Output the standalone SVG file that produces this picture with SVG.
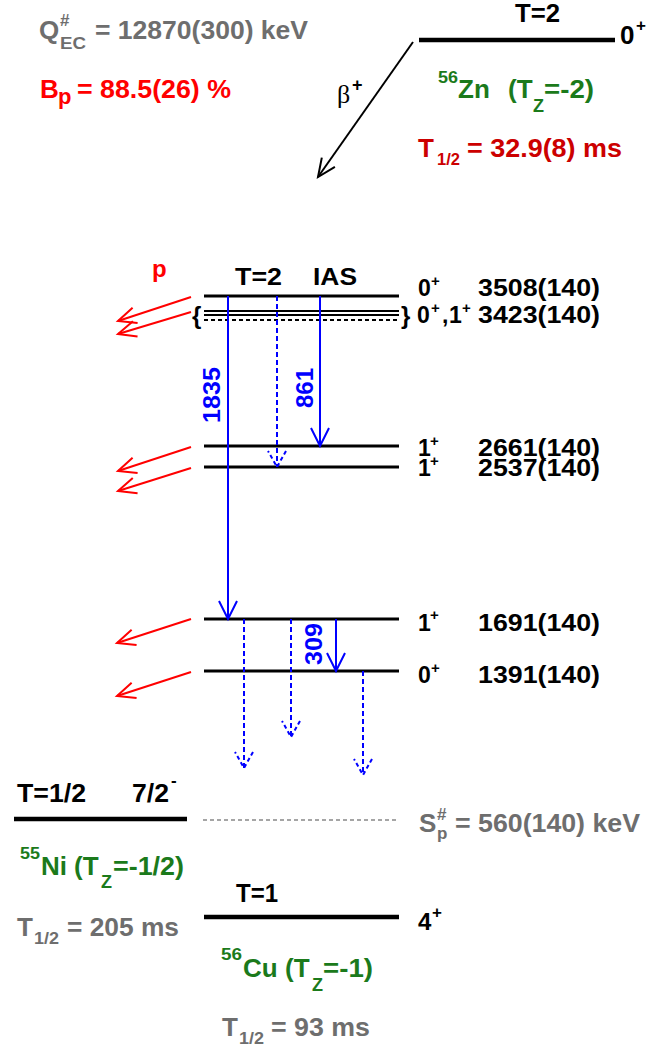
<svg xmlns="http://www.w3.org/2000/svg" width="667" height="1049" viewBox="0 0 667 1049">
<style>
text{font-family:"Liberation Sans",Arial,Helvetica,sans-serif;font-weight:bold;font-size:26px}
.sm{font-size:17px}
.lb{font-size:23px}
.sup{font-size:15px}
.gray{fill:#6e6e6e}.red{fill:#ff0000}.dred{fill:#cc0000}.green{fill:#1b7a1b}.blue{fill:#0000ff}.blk{fill:#000}
.lvl{stroke:#000;stroke-width:3}
.thick{stroke:#000;stroke-width:4.5}
.pr{stroke:#ff0000;stroke-width:2;fill:none;marker-end:url(#hr)}
.gs{stroke:#0000ff;stroke-width:2;fill:none;marker-end:url(#hb)}
.gd{stroke:#0000ff;stroke-width:2;fill:none;stroke-dasharray:5 3;marker-end:url(#hbd)}
</style>
<defs>
<marker id="hr" markerUnits="userSpaceOnUse" markerWidth="24" markerHeight="24" viewBox="0 0 24 24" refX="20" refY="12" orient="auto"><path d="M2,4 L20,12 L2,20" fill="none" stroke="#ff0000" stroke-width="2"/></marker>
<marker id="hb" markerUnits="userSpaceOnUse" markerWidth="24" markerHeight="24" viewBox="0 0 24 24" refX="20" refY="12" orient="auto"><path d="M2,3 L20,12 L2,21" fill="none" stroke="#0000ff" stroke-width="2"/></marker>
<marker id="hbd" markerUnits="userSpaceOnUse" markerWidth="24" markerHeight="24" viewBox="0 0 24 24" refX="20" refY="12" orient="auto"><path d="M4,3 L20,12 L4,21" fill="none" stroke="#0000ff" stroke-width="2" stroke-dasharray="4 3"/></marker>
<marker id="hk" markerUnits="userSpaceOnUse" markerWidth="24" markerHeight="24" viewBox="0 0 24 24" refX="20" refY="12" orient="auto"><path d="M2,4 L20,12 L2,20" fill="none" stroke="#000" stroke-width="2"/></marker>
</defs>

<g id="info">
<text class="gray" x="39" y="39">Q</text>
<text class="gray sm" x="60" y="26">#</text>
<text class="gray sm" x="60" y="49" textLength="26" lengthAdjust="spacingAndGlyphs">EC</text>
<text class="gray" x="95" y="39" textLength="213" lengthAdjust="spacingAndGlyphs">= 12870(300) keV</text>
<text class="red" x="40" y="98">B</text>
<text class="red" x="58" y="104" style="font-size:22px">p</text>
<text class="red" x="77" y="98" textLength="154" lengthAdjust="spacingAndGlyphs">= 88.5(26) %</text>
</g>

<g id="zn56">
<line class="thick" x1="419" y1="40" x2="615" y2="40"/>
<text class="blk" x="515" y="22" textLength="45" lengthAdjust="spacingAndGlyphs">T=2</text>
<text class="blk" x="620" y="44">0</text>
<text class="blk sm" x="636" y="31">+</text>
<text class="green sm" x="438" y="83" textLength="20" lengthAdjust="spacingAndGlyphs">56</text>
<text class="green" x="458" y="98">Zn</text>
<text class="green" x="508" y="98">(T</text>
<text class="green" x="533" y="112" style="font-size:18px">Z</text>
<text class="green" x="544" y="98" textLength="50" lengthAdjust="spacingAndGlyphs">=-2)</text>
<text class="dred" x="418" y="157">T</text>
<text class="dred sm" x="437" y="165" textLength="23" lengthAdjust="spacingAndGlyphs">1/2</text>
<text class="dred" x="467" y="157" textLength="155" lengthAdjust="spacingAndGlyphs">= 32.9(8) ms</text>
</g>

<g id="cu56-levels">
<text class="red" x="152" y="277" style="font-size:24px">p</text>
<text class="blk lb" x="235" y="285" textLength="47" lengthAdjust="spacingAndGlyphs">T=2</text>
<text class="blk lb" x="313" y="285" textLength="44" lengthAdjust="spacingAndGlyphs">IAS</text>
</g>

<g id="lvl3508">
<line class="lvl" x1="204" y1="296" x2="399" y2="296"/>
<text class="blk lb" x="418" y="296">0</text>
<text class="blk sup" x="431" y="286">+</text>
<text class="blk lb" x="478" y="296" textLength="122" lengthAdjust="spacingAndGlyphs">3508(140)</text>
</g>

<g id="lvl3423">
<line x1="204" y1="311" x2="399" y2="311" stroke="#000" stroke-width="2"/>
<line x1="204" y1="315" x2="399" y2="315" stroke="#000" stroke-width="2"/>
<line x1="204" y1="320" x2="399" y2="320" stroke="#000" stroke-width="2" stroke-dasharray="4 3"/>
<text class="blk" x="192" y="324" style="font-size:24px">{</text>
<text class="blk" x="401" y="324" style="font-size:24px">}</text>
<text class="blk lb" x="417" y="323">0</text>
<text class="blk sup" x="431" y="313">+</text>
<text class="blk lb" x="442" y="323">,</text>
<text class="blk lb" x="449" y="323">1</text>
<text class="blk sup" x="462" y="313">+</text>
<text class="blk lb" x="478" y="323" textLength="122" lengthAdjust="spacingAndGlyphs">3423(140)</text>
</g>

<g id="lvl2661">
<line class="lvl" x1="204" y1="446" x2="399" y2="446"/>
<text class="blk lb" x="418" y="456">1</text>
<text class="blk sup" x="430" y="446">+</text>
<text class="blk lb" x="478" y="456" textLength="122" lengthAdjust="spacingAndGlyphs">2661(140)</text>
</g>

<g id="lvl2537">
<line class="lvl" x1="204" y1="467" x2="399" y2="467"/>
<text class="blk lb" x="418" y="476">1</text>
<text class="blk sup" x="430" y="466">+</text>
<text class="blk lb" x="478" y="476" textLength="122" lengthAdjust="spacingAndGlyphs">2537(140)</text>
</g>

<g id="lvl1691">
<line class="lvl" x1="204" y1="619" x2="399" y2="619"/>
<text class="blk lb" x="418" y="631">1</text>
<text class="blk sup" x="430" y="620">+</text>
<text class="blk lb" x="478" y="631" textLength="122" lengthAdjust="spacingAndGlyphs">1691(140)</text>
</g>

<g id="lvl1391">
<line class="lvl" x1="204" y1="671" x2="399" y2="671"/>
<text class="blk lb" x="418" y="683">0</text>
<text class="blk sup" x="431" y="673">+</text>
<text class="blk lb" x="478" y="683" textLength="122" lengthAdjust="spacingAndGlyphs">1391(140)</text>
</g>

<g id="ni55">
<line class="thick" x1="14" y1="819" x2="187" y2="819"/>
<text class="blk" x="17" y="802" textLength="69" lengthAdjust="spacingAndGlyphs">T=1/2</text>
<text class="blk" x="132" y="802" textLength="37" lengthAdjust="spacingAndGlyphs">7/2</text>
<text class="blk sm" x="171" y="786">-</text>
<text class="green sm" x="20" y="859" textLength="20" lengthAdjust="spacingAndGlyphs">55</text>
<text class="green" x="41" y="875">Ni</text>
<text class="green" x="74" y="875">(T</text>
<text class="green" x="101" y="888" style="font-size:18px">Z</text>
<text class="green" x="113" y="875" textLength="71" lengthAdjust="spacingAndGlyphs">=-1/2)</text>
<text class="gray" x="17" y="936">T</text>
<text class="gray sm" x="34" y="944" textLength="25" lengthAdjust="spacingAndGlyphs">1/2</text>
<text class="gray" x="67" y="936" textLength="112" lengthAdjust="spacingAndGlyphs">= 205 ms</text>
</g>

<g id="sp">
<line x1="203" y1="820" x2="399" y2="820" stroke="#888" stroke-width="1.5" stroke-dasharray="4 3"/>
<text class="gray" x="419" y="832">S</text>
<text class="gray sm" x="437" y="820">#</text>
<text class="gray sm" x="437" y="839">p</text>
<text class="gray" x="455" y="832" textLength="185" lengthAdjust="spacingAndGlyphs">= 560(140) keV</text>
</g>

<g id="cu56">
<line class="thick" x1="204" y1="917" x2="399" y2="917"/>
<text class="blk" x="236" y="902" textLength="42" lengthAdjust="spacingAndGlyphs">T=1</text>
<text class="blk" x="418" y="930" style="font-size:24px">4</text>
<text class="blk sm" x="432" y="918">+</text>
<text class="green sm" x="221" y="960" textLength="21" lengthAdjust="spacingAndGlyphs">56</text>
<text class="green" x="243" y="977">Cu</text>
<text class="green" x="285" y="977">(T</text>
<text class="green" x="312" y="991" style="font-size:18px">Z</text>
<text class="green" x="323" y="977" textLength="50" lengthAdjust="spacingAndGlyphs">=-1)</text>
<text class="gray" x="222" y="1036">T</text>
<text class="gray sm" x="239" y="1044" textLength="25" lengthAdjust="spacingAndGlyphs">1/2</text>
<text class="gray" x="271" y="1036" textLength="99" lengthAdjust="spacingAndGlyphs">= 93 ms</text>
</g>

<g id="connectors">
<line x1="413" y1="42" x2="318" y2="177" stroke="#000" stroke-width="2" marker-end="url(#hk)"/>
<text x="337" y="103" style="font-family:'Liberation Serif','Times New Roman',serif;font-weight:normal;font-size:26px">β</text>
<text x="352" y="91" style="font-size:18px">+</text>
<line class="pr" x1="191" y1="297" x2="118" y2="321"/>
<line class="pr" x1="191" y1="312" x2="118" y2="334"/>
<line class="pr" x1="191" y1="447" x2="118" y2="471"/>
<line class="pr" x1="191" y1="468" x2="118" y2="491"/>
<line class="pr" x1="191" y1="619" x2="117" y2="643"/>
<line class="pr" x1="191" y1="672" x2="117" y2="696"/>
<line class="gs" x1="228" y1="296" x2="228" y2="619"/>
<line class="gd" x1="277" y1="296" x2="277" y2="467"/>
<line class="gs" x1="320" y1="296" x2="320" y2="446"/>
<line class="gd" x1="244" y1="619" x2="244" y2="768"/>
<line class="gd" x1="291" y1="619" x2="291" y2="737"/>
<line class="gs" x1="336" y1="619" x2="336" y2="671"/>
<line class="gd" x1="363" y1="671" x2="363" y2="775"/>
<text class="blue" transform="translate(220,395) rotate(-90)" text-anchor="middle" style="font-size:23px" textLength="56" lengthAdjust="spacingAndGlyphs">1835</text>
<text class="blue" transform="translate(313,388) rotate(-90)" text-anchor="middle" style="font-size:23px" textLength="40" lengthAdjust="spacingAndGlyphs">861</text>
<text class="blue" transform="translate(322,644) rotate(-90)" text-anchor="middle" style="font-size:23px" textLength="42" lengthAdjust="spacingAndGlyphs">309</text>
</g>
</svg>
